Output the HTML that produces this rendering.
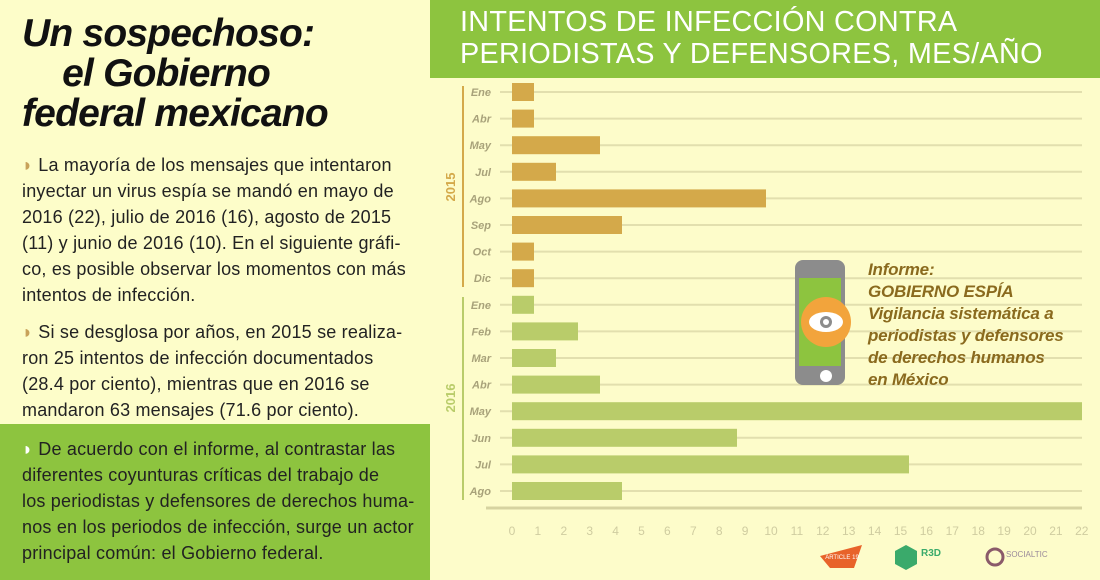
<!DOCTYPE html>
<html><head><meta charset="utf-8"><style>
body{margin:0;width:1100px;height:580px;overflow:hidden;background:#fdfcca;font-family:"Liberation Sans",sans-serif;position:relative}
.left{position:absolute;left:0;top:0;width:430px;height:580px;background:#fdfdc9}
h1{position:absolute;left:22px;top:14px;margin:0;font-size:39px;line-height:40px;font-style:italic;font-weight:bold;color:#111;letter-spacing:-0.8px}
.p{position:absolute;left:22px;font-size:18px;line-height:26px;color:#222;white-space:nowrap;letter-spacing:0.2px}
.green{position:absolute;left:0;top:424px;width:430px;height:156px;background:#8dc43f}
.title{position:absolute;left:430px;top:0;width:670px;height:78px;background:#8dc43f;color:#fff;font-size:28.8px;line-height:32px;padding:6px 0 0 30px;box-sizing:border-box;letter-spacing:0.3px}
.inf{position:absolute;left:868px;top:259px;font-size:17px;line-height:22px;font-weight:bold;font-style:italic;color:#8a6a1e;letter-spacing:-0.2px}
</style></head><body>
<div class="left"></div>
<div class="green"></div>
<h1>Un sospechoso:<br>&nbsp;&nbsp;&nbsp;&nbsp;el Gobierno<br>federal mexicano</h1>
<div class="p" style="top:152px"><span style="color:#c8a25a">◗</span> La mayoría de los mensajes que intentaron<br>inyectar un virus espía se mandó en mayo de<br>2016 (22), julio de 2016 (16), agosto de 2015<br>(11) y junio de 2016 (10). En el siguiente gráfi-<br>co, es posible observar los momentos con más<br>intentos de infección.</div>
<div class="p" style="top:319px"><span style="color:#c8a25a">◗</span> Si se desglosa por años, en 2015 se realiza-<br>ron 25 intentos de infección documentados<br>(28.4 por ciento), mientras que en 2016 se<br>mandaron 63 mensajes (71.6 por ciento).</div>
<div class="p" style="top:436px"><span style="color:#fff">◗</span> De acuerdo con el informe, al contrastar las<br>diferentes coyunturas críticas del trabajo de<br>los periodistas y defensores de derechos huma-<br>nos en los periodos de infección, surge un actor<br>principal común: el Gobierno federal.</div>
<div class="title">INTENTOS DE INFECCIÓN CONTRA<br>PERIODISTAS Y DEFENSORES, MES/AÑO</div>
<svg style="position:absolute;left:0;top:0" width="1100" height="580">
<g font-family="Liberation Sans" font-style="italic" font-weight="bold" font-size="11" fill="#a8a27a" text-anchor="end">
<g id="rows"></g>
</g>
<line x1="463" y1="86" x2="463" y2="287" stroke="#d4a94a" stroke-width="2"/>
<line x1="463" y1="297" x2="463" y2="500" stroke="#b9cc6a" stroke-width="2"/>
<text transform="translate(455,187) rotate(-90)" text-anchor="middle" font-size="13" font-weight="bold" fill="#d4a94a">2015</text>
<text transform="translate(455,398) rotate(-90)" text-anchor="middle" font-size="13" font-weight="bold" fill="#b9cc6a">2016</text>
<line x1="486" y1="508" x2="1082" y2="508" stroke="#d6d3a0" stroke-width="3"/>
<g id="ticks" font-size="12" fill="#cfcca0" text-anchor="middle" font-family="Liberation Sans"></g>
<rect x="795" y="260" width="50" height="125" rx="8" fill="#8c8c8c"/>
<rect x="799" y="278" width="42" height="88" fill="#8dc43f"/>
<circle cx="826" cy="322" r="25" fill="#f2a43c"/>
<ellipse cx="826" cy="322" rx="17" ry="10" fill="#fff"/>
<circle cx="826" cy="322" r="6" fill="#8c8c8c"/>
<circle cx="826" cy="322" r="3" fill="#fff"/>
<circle cx="826" cy="376" r="6" fill="#fff"/>
<polygon points="820,556 862,545 854,568 830,568" fill="#e8632a"/>
<text x="842" y="559" font-size="6" fill="#fff" text-anchor="middle">ARTICLE 19</text>
<polygon points="906,545 917,551 917,564 906,570 895,564 895,551" fill="#3aaa6b"/>
<text x="921" y="556" font-size="10" font-weight="bold" fill="#3aaa6b">R3D</text>
<circle cx="995" cy="557" r="8" fill="none" stroke="#8a5a6a" stroke-width="3"/>
<text x="1006" y="557" font-size="8" fill="#9a8a9a">SOCIALTIC</text>
</svg>
<div class="inf">Informe:<br>GOBIERNO ESPÍA<br>Vigilancia sistemática a<br>periodistas y defensores<br>de derechos humanos<br>en México</div>
<script>
var W={1:22,2:44,3:66,4:88,5:110,10:225,11:254,16:397,22:570};
var d=[["Ene",1],["Abr",1],["May",4],["Jul",2],["Ago",11],["Sep",5],["Oct",1],["Dic",1],["Ene",1],["Feb",3],["Mar",2],["Abr",4],["May",22],["Jun",10],["Jul",16],["Ago",5]];
var s="";
d.forEach(function(r,i){var y=92+i*26.6;var c=i<8?"#d4a94a":"#b9cc6a";
s+='<line x1="500" y1="'+y+'" x2="1082" y2="'+y+'" stroke="#e2dfae" stroke-width="2"/>';
s+='<rect x="512" y="'+(y-9)+'" width="'+W[r[1]]+'" height="18" fill="'+c+'"/>';
s+='<text x="491" y="'+(y+4)+'">'+r[0]+'</text>';});
document.getElementById("rows").innerHTML=s;
var t="";for(var i=0;i<=22;i++)t+='<text x="'+(512+i*25.9)+'" y="535">'+i+'</text>';
document.getElementById("ticks").innerHTML=t;
</script>
</body></html>
